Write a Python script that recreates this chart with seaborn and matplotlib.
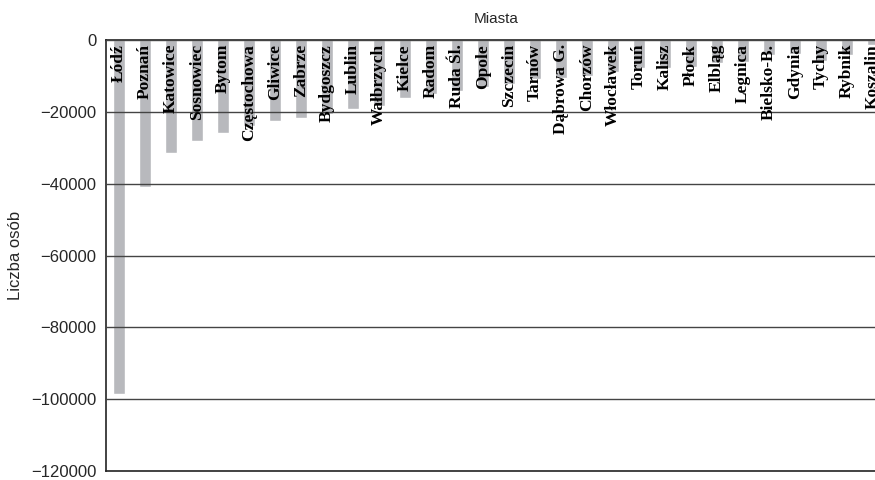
import numpy as np
import pandas as pd
import matplotlib
matplotlib.use("Agg")
import matplotlib.pyplot as plt
import seaborn as sns

# Data: population change per city (persons)
cities = [
    "Łódź", "Poznań", "Katowice", "Sosnowiec", "Bytom", "Częstochowa",
    "Gliwice", "Zabrze", "Bydgoszcz", "Lublin", "Wałbrzych", "Kielce",
    "Radom", "Ruda Śl.", "Opole", "Szczecin", "Tarnów", "Dąbrowa G.",
    "Chorzów", "Włocławek", "Toruń", "Kalisz", "Płock", "Elbląg",
    "Legnica", "Bielsko-B.", "Gdynia", "Tychy", "Rybnik", "Koszalin"
]
values = [
    -98500, -41000, -31500, -28000, -25900, -24000,
    -22500, -21600, -20500, -19200, -18300, -16100,
    -15000, -14200, -13000, -12300, -10800, -10600,
    -9900, -9000, -7900, -7700, -7500, -6500,
    -6000, -4200, -3900, -5800, -4300, -1400
]
y_ticks = [0, -20000, -40000, -60000, -80000, -100000, -120000]

df = pd.DataFrame({"Miasto": cities, "Liczba": values})

sns.set_style("white")
plt.rcParams["font.family"] = ["Liberation Sans", "DejaVu Sans"]

fig = plt.figure(figsize=(8.75, 4.8), dpi=100)
ax = fig.add_axes([106 / 875, 1 - 471 / 480, (886 - 106) / 875, (471 - 40) / 480])

sns.barplot(data=df, x="Miasto", y="Liczba", order=cities, color="#b8b9bd",
            saturation=1, width=0.45, ax=ax)

# City names inside the bars, just under zero
for i, name in enumerate(cities):
    ax.text(i, -1100, name, rotation=90, ha="center", va="top",
            fontsize=12.5, fontweight="bold",
            family=["Liberation Serif", "DejaVu Serif"], color="black")

ax.set_ylim(-120000, 0)
ax.set_xlim(-0.5, len(cities) - 0.5)
ax.set_yticks(y_ticks)
ax.set_yticklabels([f"{v}".replace("-", "\u2212") for v in y_ticks], fontsize=12)
ax.tick_params(axis="y", length=4, width=1, color="#333333", pad=3)
ax.set_xticks([])

ax.yaxis.grid(True, color="#444444", linewidth=1)
ax.set_axisbelow(False)

ax.set_xlabel("Miasta", fontsize=11, labelpad=12)
ax.xaxis.set_label_position("top")
ax.set_ylabel("Liczba osób", fontsize=12, labelpad=6)

for side in ["left", "top", "bottom"]:
    ax.spines[side].set_color("#222222")
    ax.spines[side].set_linewidth(1.2)
ax.spines["right"].set_visible(False)

fig.savefig("out.png", dpi=100)
